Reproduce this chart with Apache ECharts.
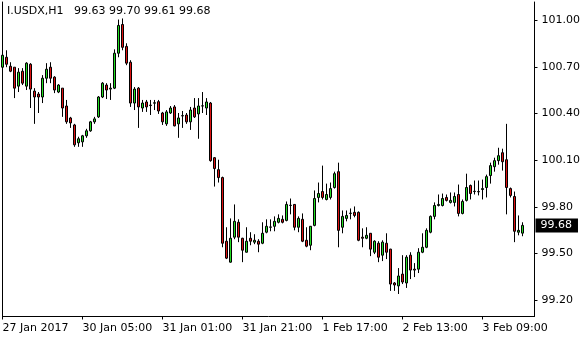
<!DOCTYPE html>
<html><head><meta charset="utf-8">
<script src="https://cdn.jsdelivr.net/npm/echarts@6/dist/echarts.min.js"></script>
<style>html,body{margin:0;padding:0;background:#fff}#c{width:580px;height:340px}</style>
</head><body><div id="c"></div>
<script>
const symbol = 'I.USDX,H1';
const tickLabels = ['27 Jan 2017', '30 Jan 05:00', '31 Jan 01:00', '31 Jan 21:00', '1 Feb 17:00', '2 Feb 13:00', '3 Feb 09:00'];
const barsPerTick = 20;
const yTicks = [99.2, 99.5, 99.8, 100.1, 100.4, 100.7, 101.0];

const opens = [100.699,100.763,100.705,100.699,100.577,100.673,100.577,100.718,100.545,100.526,
100.507,100.628,100.699,100.635,100.539,100.564,100.449,100.372,100.327,100.212,
100.218,100.257,100.289,100.347,100.379,100.507,100.584,100.558,100.564,100.789,
100.974,100.833,100.731,100.468,100.564,100.436,100.475,100.452,100.467,100.477,
100.404,100.334,100.404,100.443,100.334,100.385,100.391,100.347,100.436,100.398,
100.449,100.436,100.468,100.116,100.039,99.988,99.578,99.443,99.604,99.700,
99.597,99.507,99.597,99.572,99.578,99.565,99.636,99.668,99.674,99.700,
99.719,99.712,99.808,99.815,99.668,99.719,99.584,99.552,99.680,99.860,
99.898,99.847,99.860,99.924,100.026,99.668,99.725,99.757,99.764,99.764,
99.604,99.597,99.629,99.507,99.565,99.488,99.565,99.527,99.309,99.290,
99.366,99.309,99.488,99.398,99.398,99.507,99.539,99.636,99.738,99.808,
99.808,99.860,99.828,99.828,99.879,99.757,99.841,99.937,99.898,99.898,
99.911,99.924,100.001,100.058,100.097,100.148,100.103,99.917,99.866,99.636,
99.63];
const closes = [100.776,100.718,100.673,100.564,100.667,100.596,100.725,100.558,100.507,100.507,
100.628,100.686,100.628,100.552,100.584,100.436,100.347,100.340,100.199,100.238,
100.257,100.289,100.347,100.366,100.507,100.596,100.552,100.564,100.789,100.968,
100.827,100.725,100.468,100.558,100.443,100.468,100.443,100.455,100.470,100.417,
100.347,100.411,100.436,100.321,100.372,100.387,100.347,100.423,100.379,100.449,
100.450,100.475,100.097,100.046,99.988,99.565,99.469,99.597,99.706,99.604,
99.520,99.578,99.578,99.584,99.559,99.629,99.674,99.670,99.706,99.725,
99.700,99.815,99.810,99.668,99.725,99.578,99.546,99.674,99.853,99.885,
99.860,99.879,99.917,100.013,99.648,99.738,99.744,99.759,99.744,99.584,
99.597,99.616,99.527,99.578,99.475,99.572,99.507,99.302,99.296,99.354,
99.315,99.475,99.392,99.392,99.507,99.539,99.648,99.738,99.808,99.815,
99.853,99.841,99.841,99.866,99.757,99.834,99.924,99.885,99.900,99.896,
99.917,99.994,100.065,100.097,100.129,100.090,99.924,99.873,99.642,99.648,
99.68];
const lows = [100.693,100.699,100.667,100.500,100.539,100.584,100.552,100.436,100.334,100.404,
100.468,100.596,100.596,100.532,100.532,100.379,100.334,100.308,100.186,100.186,
100.186,100.244,100.283,100.334,100.372,100.500,100.494,100.488,100.558,100.763,
100.808,100.712,100.443,100.423,100.308,100.411,100.411,100.391,100.423,100.398,
100.327,100.321,100.398,100.318,100.244,100.308,100.334,100.295,100.372,100.238,
100.404,100.391,100.090,99.930,99.956,99.539,99.463,99.440,99.591,99.572,
99.443,99.505,99.552,99.559,99.507,99.559,99.629,99.642,99.642,99.693,
99.693,99.706,99.751,99.648,99.636,99.572,99.539,99.520,99.674,99.828,
99.847,99.841,99.847,99.917,99.539,99.629,99.706,99.719,99.732,99.578,
99.539,99.591,99.482,99.495,99.443,99.450,99.463,99.258,99.258,99.238,
99.302,99.277,99.334,99.347,99.373,99.501,99.533,99.629,99.719,99.802,
99.802,99.834,99.821,99.802,99.738,99.751,99.834,99.847,99.879,99.873,
99.847,99.860,99.949,100.026,100.071,100.033,99.751,99.860,99.572,99.616,
99.61];
const highs = [100.795,100.808,100.731,100.699,100.693,100.693,100.731,100.725,100.564,100.539,
100.648,100.725,100.731,100.641,100.590,100.564,100.488,100.379,100.334,100.251,
100.263,100.302,100.353,100.379,100.513,100.603,100.596,100.596,100.814,101.006,
101.013,100.853,100.744,100.571,100.571,100.488,100.488,100.488,100.488,100.488,
100.411,100.423,100.449,100.455,100.404,100.417,100.404,100.443,100.500,100.500,
100.539,100.500,100.475,100.120,100.103,99.994,99.668,99.725,99.815,99.719,
99.600,99.668,99.636,99.623,99.591,99.700,99.719,99.719,99.738,99.751,
99.744,99.834,99.853,99.817,99.738,99.757,99.668,99.676,99.905,99.956,
100.065,99.949,99.956,100.026,100.084,99.776,99.776,99.789,99.802,99.770,
99.661,99.668,99.631,99.584,99.578,99.584,99.629,99.529,99.315,99.405,
99.488,99.488,99.507,99.437,99.533,99.629,99.661,99.744,99.828,99.879,
99.885,99.879,99.892,99.892,99.943,99.847,100.013,99.943,99.969,99.969,
99.975,100.007,100.084,100.116,100.180,100.174,100.334,99.924,99.898,99.744,
99.70];

const slots = 134;
const categories = Array.from({length: slots}, (_, i) =>
  (i % barsPerTick === 0 && i / barsPerTick < tickLabels.length) ? tickLabels[i / barsPerTick] : '');
const data = opens.map((o, i) => [o, closes[i], lows[i], highs[i]]);
const last = opens.length - 1;
const fmt = v => v.toFixed(2);
const FONT = 'DejaVu Sans';
const yMin = 99.093, yMax = 101.119;
const showTick = (i, v) => v !== '';

const chart = echarts.init(document.getElementById('c'), null, {renderer: 'canvas'});
chart.setOption({
  animation: false,
  backgroundColor: '#fff',
  textStyle: {fontFamily: FONT},
  title: {
    text: symbol + '   ' + [opens[last], highs[last], lows[last], closes[last]].map(fmt).join(' '),
    left: 7, top: 6, padding: 0,
    textStyle: {fontSize: 11, fontWeight: 'normal', color: '#000', fontFamily: FONT}
  },
  grid: {left: 2.5, right: 45.5, top: 2, bottom: 23.5, containLabel: false, outerBoundsMode: 'none'},
  xAxis: {
    type: 'category', data: categories, boundaryGap: false,
    axisLine: {show: true, lineStyle: {color: '#000', width: 1}},
    axisTick: {show: true, interval: showTick, length: 3, lineStyle: {color: '#000'}},
    axisLabel: {interval: showTick, align: 'left', margin: 6, color: '#000', fontSize: 11, fontFamily: FONT},
    splitLine: {show: false}
  },
  yAxis: [{
    type: 'value', position: 'right', min: yMin, max: yMax,
    axisLine: {show: true, lineStyle: {color: '#000'}},
    axisTick: {show: true, customValues: yTicks, length: 3, lineStyle: {color: '#000'}},
    axisLabel: {customValues: yTicks, formatter: v => fmt(v), margin: 7, color: '#000', fontSize: 11, fontFamily: FONT},
    splitLine: {show: false}
  }, {
    type: 'value', position: 'left', min: yMin, max: yMax,
    axisLine: {show: true, lineStyle: {color: '#000'}},
    axisTick: {show: false}, axisLabel: {show: false}, splitLine: {show: false}
  }],
  series: [{
    type: 'candlestick',
    data: data,
    barWidth: 2,
    itemStyle: {color: '#22dd22', color0: '#dd1111', borderColor: '#000', borderColor0: '#000', borderColorDoji: '#000', borderWidth: 1},
    markLine: {
      silent: true, animation: false,
      symbol: ['none', 'none'],
      lineStyle: {color: 'rgba(0,0,0,0)', width: 1, type: 'solid'},
      label: {
        show: true, position: 'end', distance: 1,
        formatter: () => fmt(closes[last]),
        backgroundColor: '#000', color: '#fff', padding: [1, 6, 0, 5],
        fontSize: 11, fontFamily: FONT, lineHeight: 13
      },
      emphasis: {disabled: true},
      data: [{yAxis: closes[last]}]
    }
  }]
});
</script>
</body></html>
